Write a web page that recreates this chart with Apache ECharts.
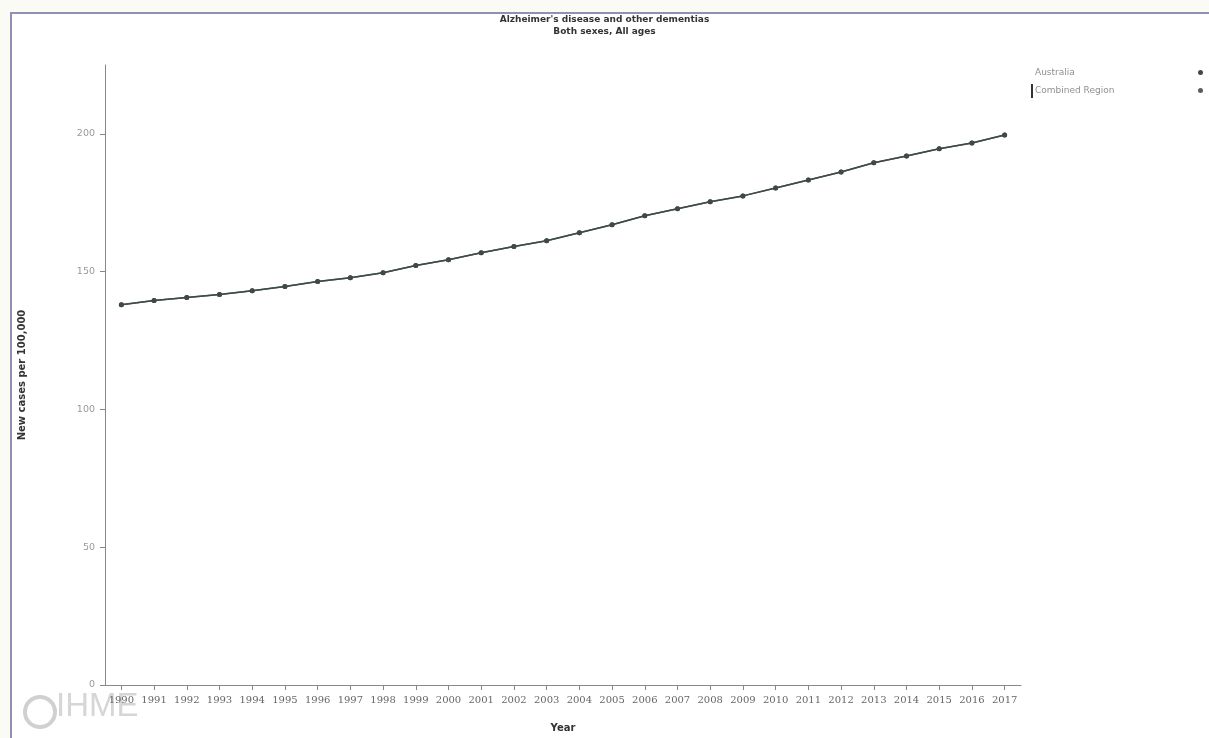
<!DOCTYPE html>
<html>
<head>
<meta charset="utf-8">
<script src="https://cdn.jsdelivr.net/npm/echarts@6/dist/echarts.min.js"></script>
<style>
html,body{margin:0;padding:0;background:#fbfbf6;width:1209px;height:738px;overflow:hidden;}
#frame{position:absolute;left:10px;top:12px;width:1199px;height:726px;border-top:2px solid #9090b4;border-left:2px solid #9090b4;background:#fff;box-sizing:border-box;}
#chart{position:absolute;left:0;top:0;width:1209px;height:738px;}
</style>
</head>
<body>
<div id="frame"></div>
<div id="chart"></div>
<script>
const titleLines = ["Alzheimer's disease and other dementias", "Both sexes, All ages"];
const years = ["1990","1991","1992","1993","1994","1995","1996","1997","1998","1999","2000","2001","2002","2003","2004","2005","2006","2007","2008","2009","2010","2011","2012","2013","2014","2015","2016","2017"];
const australia = [138.0,139.5,140.6,141.7,143.1,144.6,146.4,147.8,149.6,152.2,154.3,156.9,159.1,161.2,164.1,167.0,170.3,172.8,175.4,177.5,180.4,183.3,186.2,189.5,192.0,194.6,196.7,199.6];
const combinedRegion = [138.0,139.5,140.6,141.7,143.1,144.6,146.4,147.8,149.6,152.2,154.3,156.9,159.1,161.2,164.1,167.0,170.3,172.8,175.4,177.5,180.4,183.3,186.2,189.5,192.0,194.6,196.7,199.6];
const seriesNames = ["Australia", "Combined Region"];
const yAxisName = "New cases per 100,000";
const xAxisName = "Year";

const chart = echarts.init(document.getElementById('chart'), null, {renderer:'canvas'});
const font = 'DejaVu Sans';
chart.setOption({
  backgroundColor: 'transparent',
  animation: false,
  textStyle: {fontFamily: font},
  title: {
    text: titleLines[0] + '\n' + titleLines[1],
    left: 'center', top: 9,
    textStyle: {fontSize: 9, fontWeight: 'bold', color: '#333', lineHeight: 12, fontFamily: font}
  },
  legend: {
    orient: 'vertical', left: 1035, top: 68, padding: 0,
    align: 'right', itemGap: 9,
    icon: 'circle', itemWidth: 5, itemHeight: 5,
    formatter: function (n) { return '{a|' + n + '}'; },
    textStyle: {fontSize: 9, color: '#999', fontFamily: font,
      rich: {a: {width: 158, align: 'left', fontSize: 9, color: '#8f8f8f', fontFamily: font}}},
    data: seriesNames
  },
  graphic: [
    {type: 'rect', shape: {x: 1031, y: 84, width: 2, height: 14}, style: {fill: '#333'}},
    {type: 'text', left: 56, top: 690, style: {text: 'IHME', fontSize: 33, fill: '#d6d6d6', fontFamily: 'Liberation Sans'}},
    {type: 'circle', shape: {cx: 40, cy: 712, r: 15}, style: {fill: 'none', stroke: '#d0d0d0', lineWidth: 4}}
  ],
  grid: {left: 105, right: 188, top: 65, bottom: 52, containLabel: false},
  xAxis: {
    type: 'category', data: years, boundaryGap: true,
    name: xAxisName, nameLocation: 'middle', nameGap: 38,
    nameTextStyle: {fontSize: 10, fontWeight: 'bold', color: '#333'},
    axisLine: {lineStyle: {color: '#888', width: 1}},
    axisTick: {show: true, alignWithLabel: true, length: 5, lineStyle: {color: '#888'}},
    axisLabel: {fontSize: 10, color: '#666', margin: 10, interval: 0, fontFamily: 'DejaVu Serif'}
  },
  yAxis: {
    type: 'value', min: 0, max: 225, interval: 50,
    name: yAxisName, nameLocation: 'middle', nameGap: 78, nameRotate: 90,
    nameTextStyle: {fontSize: 10, fontWeight: 'bold', color: '#333'},
    axisLine: {show: true, lineStyle: {color: '#888', width: 1}},
    axisTick: {show: true, length: 5, lineStyle: {color: '#888'}},
    axisLabel: {fontSize: 9.5, color: '#999', margin: 10, showMaxLabel: false},
    splitLine: {show: false}
  },
  series: [
    {name: seriesNames[0], type: 'line', data: australia, symbol: 'circle', symbolSize: 5,
     lineStyle: {color: '#3f4a46', width: 1.5}, itemStyle: {color: '#3f4a46'}, z: 3},
    {name: seriesNames[1], type: 'line', data: combinedRegion, symbol: 'circle', symbolSize: 5,
     lineStyle: {color: '#55605c', width: 1.5}, itemStyle: {color: '#55605c'}, z: 2}
  ]
});
</script>
</body>
</html>
